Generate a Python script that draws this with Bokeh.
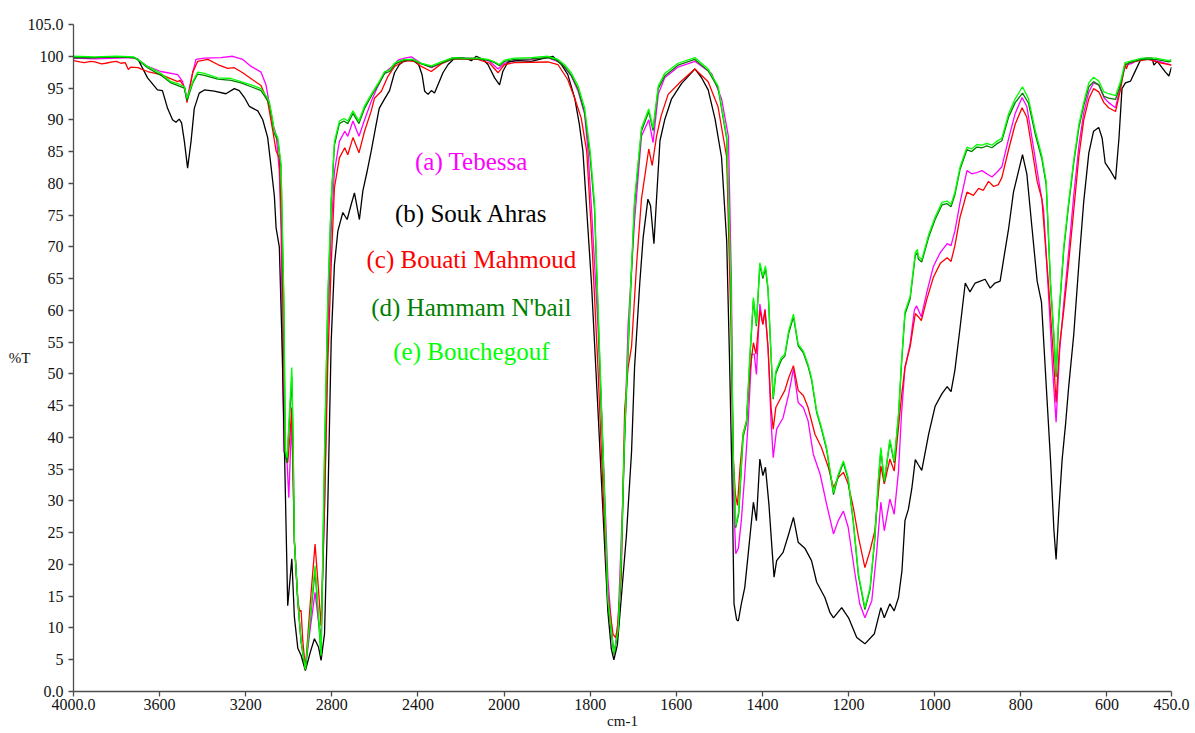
import numpy as np
from bokeh.plotting import figure
from bokeh.models import Range1d, FixedTicker, Label
from bokeh.embed import file_html
from bokeh.resources import INLINE

# ---------------- FTIR spectra: wavenumber (cm-1) and transmittance (%T) ----------------
tebessa_wn = [4000, 3900, 3800, 3720, 3700, 3656, 3594, 3516, 3493, 3473, 3446, 3431, 3392, 3315, 3261,
              3214, 3175, 3129, 3106, 3098, 3074, 3059, 3044, 3036, 3023, 3008, 3000, 2992, 2986, 2980,
              2974, 2958, 2943, 2923, 2900, 2878, 2862, 2850, 2834, 2819, 2803, 2788, 2765, 2740, 2726,
              2702, 2674, 2648, 2617, 2590, 2555, 2509, 2493, 2462, 2431, 2385, 2338, 2292, 2238, 2150,
              2100, 2067, 2028, 1999, 1976, 1937, 1898, 1867, 1844, 1828, 1813, 1805, 1797, 1782, 1770,
              1759, 1747, 1743, 1735, 1724, 1712, 1697, 1681, 1664, 1654, 1642, 1627, 1596, 1557, 1518,
              1495, 1479, 1472, 1468, 1462, 1456, 1449, 1441, 1433, 1425, 1419, 1414, 1406, 1399, 1394,
              1387, 1380, 1375, 1367, 1352, 1339, 1328, 1317, 1305, 1294, 1282, 1266, 1251, 1235, 1224,
              1212, 1201, 1185, 1174, 1162, 1146, 1135, 1125, 1117, 1104, 1094, 1084, 1077, 1069, 1057,
              1047, 1042, 1031, 1018, 1003, 987, 971, 962, 953, 941, 925, 914, 902, 890, 879,
              867, 856, 844, 828, 813, 797, 786, 774, 758, 747, 735, 726, 718, 710, 700,
              689, 677, 665, 654, 642, 631, 619, 607, 596, 580, 568, 557, 541, 526, 503,
              479, 450]
tebessa_t = [99.7, 99.6, 99.7, 99.8, 99.5, 98.4, 97.6, 97.1, 96.0, 93.2, 97.5, 99.5, 99.7, 99.8, 100.0,
             99.5, 98.4, 97.5, 95.5, 94.0, 89.3, 87.7, 81.9, 72.5, 37.9, 36.0, 30.5, 38.0, 42.6, 33.0,
             23.7, 14.3, 8.0, 3.6, 10.0, 15.6, 11.0, 8.5, 29.0, 56.8, 72.5, 81.9, 86.6, 88.2, 87.4,
             89.8, 87.4, 90.0, 92.9, 95.0, 97.4, 98.7, 99.4, 99.7, 99.9, 98.9, 98.2, 98.9, 99.8, 99.7,
             99.6, 99.2, 98.0, 98.9, 99.3, 99.5, 99.8, 98.9, 96.9, 94.5, 90.9, 85.0, 76.0, 57.6, 37.7,
             17.9, 7.3, 6.3, 11.3, 31.1, 57.6, 74.1, 87.4, 90.0, 86.4, 94.0, 96.6, 98.3, 99.2, 97.3,
             93.3, 87.4, 64.2, 32.1, 21.7, 22.5, 26.9, 34.2, 42.6, 53.1, 53.1, 49.9, 61.0, 57.8, 60.2,
             54.1, 42.6, 36.8, 41.3, 43.1, 46.8, 50.8, 45.5, 44.7, 42.6, 37.4, 34.2, 29.5, 24.8, 26.9,
             28.4, 25.9, 18.5, 13.8, 11.6, 14.3, 21.7, 29.8, 25.3, 30.3, 27.9, 34.7, 43.7, 51.0, 54.7,
             60.1, 60.7, 59.0, 62.9, 66.9, 69.1, 70.5, 70.2, 72.5, 77.0, 82.0, 81.5, 81.7, 82.0, 81.5,
             81.0, 81.7, 82.6, 87.1, 91.0, 93.5, 92.1, 87.1, 80.3, 75.8, 61.8, 50.6, 42.4, 53.4, 61.3,
             69.1, 78.1, 86.0, 91.0, 94.4, 95.8, 95.5, 93.5, 92.7, 91.9, 95.5, 98.6, 98.9, 99.5, 99.5,
             99.2, 98.6]

souk_ahras_wn = [4000, 3900, 3800, 3720, 3700, 3656, 3610, 3587, 3563, 3540, 3524, 3509, 3498, 3485, 3470,
                 3454, 3439, 3416, 3392, 3346, 3292, 3253, 3230, 3206, 3183, 3144, 3121, 3098, 3082, 3067,
                 3059, 3044, 3033, 3020, 3005, 2986, 2974, 2958, 2943, 2923, 2900, 2881, 2862, 2850, 2834,
                 2819, 2803, 2788, 2772, 2749, 2729, 2710, 2695, 2672, 2656, 2636, 2617, 2594, 2580, 2555,
                 2532, 2509, 2486, 2470, 2431, 2397, 2381, 2369, 2353, 2338, 2323, 2307, 2284, 2260, 2230,
                 2200, 2170, 2152, 2129, 2098, 2075, 2044, 2021, 2006, 1991, 1968, 1937, 1906, 1887, 1867,
                 1852, 1836, 1825, 1817, 1797, 1782, 1770, 1759, 1751, 1745, 1737, 1728, 1716, 1704, 1697,
                 1685, 1677, 1666, 1660, 1652, 1646, 1638, 1627, 1611, 1588, 1557, 1542, 1526, 1510, 1495,
                 1483, 1476, 1470, 1466, 1460, 1456, 1449, 1441, 1433, 1421, 1414, 1406, 1399, 1393, 1385,
                 1377, 1373, 1367, 1352, 1339, 1328, 1317, 1301, 1286, 1274, 1255, 1243, 1235, 1216, 1200,
                 1181, 1162, 1140, 1125, 1117, 1104, 1094, 1084, 1076, 1069, 1061, 1053, 1045, 1038, 1030,
                 1014, 999, 983, 971, 962, 953, 941, 929, 918, 906, 894, 883, 871, 860, 848,
                 840, 828, 817, 805, 796, 786, 774, 762, 752, 743, 731, 723, 718, 712, 704,
                 696, 689, 677, 665, 654, 642, 631, 619, 611, 604, 592, 580, 572, 565, 557,
                 545, 534, 522, 510, 495, 491, 483, 464, 456, 450]
souk_ahras_t = [99.8, 99.8, 99.9, 99.8, 99.5, 96.6, 94.7, 94.6, 91.8, 90.0, 89.6, 90.1, 89.5, 86.6, 82.4,
                86.6, 91.8, 94.2, 94.7, 94.5, 94.1, 94.9, 94.6, 93.5, 92.1, 91.4, 90.0, 87.2, 82.5, 78.0,
                73.0, 70.0, 56.8, 37.9, 13.5, 20.9, 11.7, 6.8, 5.7, 3.3, 6.2, 8.3, 7.0, 4.9, 9.1,
                29.0, 55.2, 67.2, 72.5, 75.4, 74.3, 76.7, 78.5, 74.3, 78.8, 81.9, 85.1, 89.3, 91.8, 93.3,
                94.6, 97.4, 98.7, 99.1, 99.5, 98.7, 97.1, 94.5, 94.0, 94.6, 94.2, 95.5, 97.4, 98.7, 99.7,
                99.8, 99.6, 99.3, 100.0, 99.5, 98.7, 96.6, 95.5, 97.6, 99.1, 99.3, 99.2, 99.7, 100.0, 98.7,
                97.1, 93.4, 89.2, 85.1, 64.2, 44.3, 27.8, 12.6, 6.7, 5.0, 7.3, 14.6, 24.5, 37.7, 51.0,
                64.2, 71.5, 77.5, 76.5, 70.5, 77.5, 86.7, 90.0, 93.3, 95.7, 98.0, 96.7, 94.7, 90.1, 84.1,
                70.9, 51.0, 31.1, 13.8, 11.3, 11.1, 13.8, 16.4, 21.7, 29.8, 26.9, 36.6, 34.0, 35.3, 29.5,
                21.7, 18.0, 20.6, 21.9, 24.8, 27.4, 23.5, 22.5, 20.6, 17.2, 14.8, 12.4, 11.6, 13.2, 11.6,
                8.5, 7.5, 9.1, 13.2, 11.6, 13.8, 12.7, 14.8, 19.0, 26.9, 28.7, 32.0, 36.5, 35.7, 34.8,
                40.5, 44.9, 46.9, 48.0, 47.2, 50.6, 57.3, 64.3, 62.9, 64.3, 64.6, 64.9, 63.5, 64.3, 64.6,
                68.0, 73.0, 78.6, 82.0, 84.5, 81.5, 73.0, 64.6, 61.3, 50.6, 36.5, 25.3, 20.8, 28.1, 36.5,
                42.1, 47.8, 56.2, 67.4, 77.0, 84.8, 88.2, 88.8, 87.1, 83.2, 82.0, 80.6, 87.1, 94.9, 95.8,
                96.1, 97.7, 99.4, 99.7, 99.7, 98.6, 99.2, 97.5, 96.9, 98.3]

bouati_wn = [4000, 3970, 3950, 3920, 3900, 3870, 3850, 3820, 3800, 3780, 3760, 3745, 3735, 3700, 3687,
             3656, 3594, 3516, 3505, 3482, 3473, 3446, 3423, 3376, 3330, 3284, 3253, 3214, 3168, 3129,
             3098, 3074, 3059, 3044, 3033, 3023, 3017, 3005, 2995, 2986, 2974, 2958, 2950, 2943, 2935,
             2923, 2900, 2878, 2862, 2850, 2834, 2819, 2803, 2788, 2765, 2740, 2726, 2702, 2674, 2648,
             2617, 2602, 2570, 2540, 2509, 2493, 2462, 2416, 2385, 2338, 2292, 2238, 2122, 2067, 2028,
             1999, 1976, 1898, 1875, 1852, 1836, 1821, 1808, 1797, 1782, 1770, 1759, 1747, 1741, 1737,
             1728, 1720, 1712, 1704, 1692, 1681, 1664, 1656, 1646, 1635, 1619, 1590, 1557, 1526, 1503,
             1483, 1473, 1468, 1463, 1458, 1452, 1445, 1437, 1429, 1421, 1415, 1406, 1399, 1394, 1387,
             1380, 1375, 1369, 1359, 1348, 1339, 1328, 1317, 1305, 1294, 1278, 1263, 1247, 1235, 1224,
             1212, 1201, 1189, 1177, 1162, 1150, 1139, 1125, 1117, 1104, 1094, 1084, 1077, 1069, 1057,
             1045, 1038, 1031, 1018, 1003, 987, 971, 962, 953, 941, 925, 910, 898, 887, 875,
             863, 852, 844, 828, 813, 797, 786, 774, 762, 751, 735, 726, 718, 710, 700,
             689, 677, 665, 654, 642, 631, 619, 607, 596, 580, 568, 558, 555, 549, 534,
             503, 479, 450]
bouati_t = [99.3, 99.1, 99.0, 99.2, 99.1, 98.8, 98.9, 99.1, 99.2, 98.9, 99.0, 97.9, 98.3, 98.2, 98.0,
            97.6, 97.1, 96.0, 96.2, 95.0, 92.7, 97.5, 99.2, 99.5, 98.7, 98.1, 98.2, 97.4, 96.3, 95.4,
            92.9, 88.2, 85.1, 84.0, 72.5, 51.5, 37.9, 36.0, 40.0, 44.7, 23.7, 14.3, 12.6, 12.8, 8.0,
            3.6, 14.0, 23.2, 16.0, 10.3, 29.0, 51.5, 67.2, 79.3, 84.0, 85.6, 84.5, 87.2, 84.8, 88.2,
            91.4, 93.4, 94.5, 96.8, 98.4, 98.7, 99.3, 99.2, 98.4, 97.6, 98.8, 99.6, 99.5, 98.9, 97.4,
            98.7, 99.0, 99.1, 98.7, 96.3, 93.4, 90.3, 85.0, 72.0, 51.0, 31.1, 15.3, 9.0, 8.5, 9.9,
            17.9, 44.3, 51.0, 54.3, 67.5, 77.5, 85.4, 82.8, 87.4, 90.7, 94.0, 96.0, 98.0, 96.0, 92.0,
            84.1, 57.6, 37.0, 31.1, 29.3, 35.3, 40.5, 42.6, 50.4, 54.9, 53.1, 60.0, 57.8, 60.0, 54.1,
            44.7, 41.3, 44.7, 46.0, 47.4, 49.4, 51.3, 47.4, 46.6, 44.7, 40.5, 38.4, 35.3, 32.1, 33.7,
            34.5, 32.7, 29.0, 24.3, 19.5, 22.2, 25.3, 35.5, 32.7, 36.6, 34.7, 41.6, 46.5, 51.0, 54.3,
            59.5, 59.0, 58.4, 61.8, 65.2, 67.4, 68.3, 67.7, 70.2, 74.7, 78.6, 78.1, 79.2, 78.9, 80.3,
            79.5, 79.8, 80.9, 85.4, 89.3, 91.9, 90.4, 85.4, 80.3, 77.5, 63.5, 54.5, 45.5, 54.5, 60.1,
            67.4, 75.8, 84.3, 89.9, 93.3, 94.9, 94.4, 92.7, 91.9, 91.3, 94.9, 98.9, 98.0, 99.0, 99.2,
            99.5, 99.0, 98.6]

hammam_wn = [4000, 3900, 3800, 3720, 3700, 3656, 3594, 3547, 3509, 3485, 3473, 3446, 3423, 3392, 3330,
             3268, 3222, 3175, 3129, 3098, 3090, 3079, 3067, 3051, 3036, 3023, 3016, 3008, 3000, 2986,
             2980, 2974, 2958, 2943, 2923, 2900, 2878, 2862, 2850, 2834, 2819, 2803, 2788, 2765, 2744,
             2726, 2702, 2674, 2648, 2617, 2579, 2555, 2532, 2509, 2493, 2462, 2423, 2385, 2338, 2292,
             2238, 2184, 2122, 2075, 2044, 2021, 1999, 1976, 1937, 1898, 1875, 1860, 1844, 1828, 1813,
             1800, 1790, 1782, 1770, 1759, 1745, 1735, 1728, 1720, 1708, 1697, 1681, 1664, 1654, 1642,
             1627, 1596, 1557, 1526, 1503, 1483, 1473, 1468, 1462, 1455, 1445, 1437, 1429, 1421, 1414,
             1406, 1399, 1393, 1387, 1380, 1375, 1369, 1356, 1348, 1339, 1328, 1317, 1305, 1294, 1286,
             1274, 1263, 1251, 1235, 1224, 1212, 1201, 1189, 1177, 1162, 1150, 1139, 1131, 1125, 1117,
             1104, 1094, 1084, 1077, 1069, 1057, 1045, 1040, 1038, 1030, 1014, 999, 983, 971, 962,
             953, 941, 925, 914, 902, 890, 879, 867, 856, 844, 828, 813, 796, 782, 766,
             751, 741, 731, 723, 718, 712, 700, 689, 677, 665, 654, 642, 631, 619, 607,
             596, 580, 568, 558, 541, 518, 487, 456, 450]
hammam_t = [99.8, 99.8, 99.9, 99.8, 99.4, 98.2, 97.0, 95.8, 95.3, 95.0, 93.0, 95.8, 97.2, 97.0, 96.4,
            96.2, 95.8, 95.2, 94.6, 93.0, 92.3, 90.4, 87.8, 86.8, 82.5, 60.5, 37.5, 36.0, 41.0, 49.5,
            39.0, 23.5, 14.0, 7.8, 3.4, 11.5, 19.0, 11.5, 5.5, 36.5, 61.0, 77.0, 86.0, 89.4, 89.8,
            89.4, 91.0, 89.4, 91.8, 93.7, 95.8, 97.3, 97.6, 98.7, 99.0, 99.4, 99.4, 98.8, 98.3, 98.9,
            99.6, 99.6, 99.6, 99.4, 99.0, 98.5, 99.2, 99.5, 99.6, 99.8, 99.3, 98.4, 97.0, 94.8, 91.2,
            84.0, 76.0, 60.0, 36.5, 14.0, 5.8, 9.5, 20.5, 40.0, 60.0, 76.8, 88.2, 91.3, 88.3, 94.9,
            96.9, 98.6, 99.5, 97.7, 95.0, 87.0, 63.5, 37.0, 25.8, 28.0, 40.0, 42.2, 52.7, 61.6, 57.5,
            67.2, 65.0, 66.6, 63.2, 52.8, 46.0, 50.0, 52.2, 52.8, 56.4, 59.0, 54.4, 53.3, 51.2, 49.1,
            43.9, 41.3, 38.1, 31.0, 33.9, 36.0, 33.4, 26.6, 18.2, 12.9, 16.1, 24.0, 32.9, 38.0, 32.9,
            39.4, 36.0, 43.3, 51.6, 59.4, 61.8, 68.6, 69.1, 68.1, 67.6, 71.5, 74.3, 76.6, 76.8, 76.3,
            78.2, 82.2, 85.3, 85.0, 85.7, 85.6, 85.9, 85.6, 86.2, 86.7, 90.5, 92.7, 94.2, 92.6, 87.6,
            83.8, 79.8, 64.0, 55.6, 49.5, 58.5, 69.7, 76.5, 83.2, 88.8, 92.2, 95.2, 96.0, 95.5, 93.7,
            93.4, 93.2, 95.6, 98.7, 99.1, 99.5, 99.5, 99.1, 99.3]

bouchegouf_wn = [4000, 3900, 3800, 3720, 3700, 3656, 3594, 3547, 3509, 3485, 3473, 3446, 3423, 3392, 3330,
                 3268, 3222, 3175, 3129, 3098, 3090, 3079, 3067, 3051, 3036, 3023, 3016, 3008, 3000, 2986,
                 2980, 2974, 2958, 2943, 2923, 2900, 2878, 2862, 2850, 2834, 2819, 2803, 2788, 2765, 2744,
                 2726, 2702, 2674, 2648, 2617, 2579, 2555, 2532, 2509, 2493, 2462, 2423, 2385, 2338, 2292,
                 2238, 2184, 2122, 2075, 2044, 2021, 1999, 1976, 1937, 1898, 1875, 1860, 1844, 1828, 1813,
                 1800, 1790, 1782, 1770, 1759, 1745, 1735, 1728, 1720, 1708, 1697, 1681, 1664, 1654, 1642,
                 1627, 1596, 1557, 1526, 1503, 1483, 1473, 1468, 1462, 1455, 1445, 1437, 1429, 1421, 1414,
                 1406, 1399, 1393, 1387, 1380, 1375, 1369, 1356, 1348, 1339, 1328, 1317, 1305, 1294, 1286,
                 1274, 1263, 1251, 1235, 1224, 1212, 1201, 1189, 1177, 1162, 1150, 1139, 1131, 1125, 1117,
                 1104, 1094, 1084, 1077, 1069, 1057, 1045, 1040, 1038, 1030, 1014, 999, 983, 971, 962,
                 953, 941, 925, 914, 902, 890, 879, 867, 856, 844, 828, 813, 796, 782, 766,
                 751, 741, 731, 723, 718, 712, 700, 689, 677, 665, 654, 642, 631, 619, 607,
                 596, 580, 568, 558, 541, 518, 487, 456, 450]
bouchegouf_t = [100.0, 99.9, 100.0, 99.9, 99.5, 98.4, 97.3, 96.0, 95.6, 95.2, 93.4, 96.0, 97.5, 97.3, 96.6,
                96.5, 96.0, 95.5, 94.9, 93.4, 92.7, 90.8, 88.2, 87.2, 83.0, 62.0, 37.9, 36.8, 42.0, 51.0,
                40.0, 23.7, 14.3, 8.0, 3.5, 12.0, 19.8, 12.0, 5.7, 37.9, 62.0, 77.7, 86.6, 89.8, 90.2,
                89.8, 91.4, 89.8, 92.2, 94.0, 96.1, 97.6, 97.8, 98.9, 99.2, 99.5, 99.5, 98.9, 98.5, 99.1,
                99.8, 99.7, 99.7, 99.5, 99.1, 98.7, 99.4, 99.7, 99.8, 100.0, 99.5, 98.7, 97.4, 95.3, 91.9,
                85.0, 77.0, 61.0, 37.7, 14.6, 6.0, 9.8, 21.2, 41.0, 60.9, 77.5, 88.7, 91.7, 88.7, 95.3,
                97.3, 98.9, 99.8, 98.0, 95.3, 87.4, 64.2, 37.7, 26.1, 28.4, 40.5, 42.6, 53.1, 62.0, 57.8,
                67.5, 65.4, 67.0, 63.6, 53.1, 46.3, 50.4, 52.6, 53.1, 56.8, 59.4, 54.7, 53.6, 51.5, 49.4,
                44.2, 41.6, 38.4, 31.3, 34.2, 36.3, 33.7, 26.9, 18.5, 13.2, 16.4, 24.3, 33.2, 38.4, 33.2,
                39.7, 36.3, 43.7, 52.0, 59.8, 62.2, 69.1, 69.6, 68.5, 68.0, 71.9, 74.7, 77.0, 77.2, 76.7,
                78.6, 82.6, 85.7, 85.4, 86.1, 86.0, 86.3, 86.0, 86.6, 87.1, 91.0, 93.3, 95.2, 93.3, 88.2,
                84.3, 80.3, 64.6, 56.2, 50.0, 59.0, 70.2, 77.0, 83.7, 89.3, 92.7, 95.8, 96.7, 96.1, 94.4,
                94.1, 93.8, 96.1, 99.0, 99.3, 99.7, 99.7, 99.3, 99.5]

series_names = ["(a) Tebessa", "(b) Souk Ahras", "(c) Bouati Mahmoud", "(d) Hammam N'bail", "(e) Bouchegouf"]
series_colors = ["#ff00ff", "#000000", "#ff0000", "#008000", "#00ff00"]

x_tick_wn = [4000, 3600, 3200, 2800, 2400, 2000, 1800, 1600, 1400, 1200, 1000, 800, 600, 450]
x_tick_labels = ["4000.0", "3600", "3200", "2800", "2400", "2000", "1800", "1600",
                 "1400", "1200", "1000", "800", "600", "450.0"]
y_ticks = list(range(0, 106, 5))
y_tick_labels = ["0.0"] + [str(v) for v in range(5, 105, 5)] + ["105.0"]


def axis_pos(wn):
    """Spectrometer-style x scale: 400 cm-1 per division above 2000, 200 cm-1 per division below."""
    wn = np.asarray(wn, dtype=float)
    return np.where(wn >= 2000, (4000.0 - wn) / 400.0, 5.0 + (2000.0 - wn) / 200.0)


SERIF = "Times New Roman"

p = figure(width=1195, height=733, output_backend="svg", toolbar_location=None,
           x_range=Range1d(0, float(axis_pos(450))), y_range=Range1d(0, 105),
           min_border_left=73, min_border_right=24, min_border_top=24, min_border_bottom=42)
p.outline_line_color = None
p.grid.visible = False
p.background_fill_color = "white"
p.border_fill_color = "white"

tick_pos = [float(v) for v in axis_pos(x_tick_wn)]
p.xaxis.ticker = FixedTicker(ticks=tick_pos)
p.xaxis.major_label_overrides = {pos: lab for pos, lab in zip(tick_pos, x_tick_labels)}
p.yaxis.ticker = FixedTicker(ticks=y_ticks)
p.yaxis.major_label_overrides = {t: lab for t, lab in zip(y_ticks, y_tick_labels)}

for ax in (p.xaxis, p.yaxis):
    ax.axis_line_color = "#4d4d4d"
    ax.axis_line_width = 1.3
    ax.major_tick_line_color = "#4d4d4d"
    ax.major_tick_line_width = 1.3
    ax.major_tick_in = 0
    ax.major_tick_out = 5
    ax.minor_tick_line_color = None
    ax.major_label_text_font = SERIF
    ax.major_label_text_font_style = "normal"
    ax.major_label_text_font_size = "16px"
    ax.major_label_text_color = "#111111"
    ax.axis_label_text_font = SERIF
    ax.axis_label_text_font_size = "15px"
    ax.axis_label_text_font_style = "normal"
    ax.axis_label_text_color = "#111111"
p.xaxis.major_label_standoff = 2
p.yaxis.major_label_standoff = 5

# axis titles
p.xaxis.axis_label = "cm-1"
p.xaxis.axis_label_standoff = 0
p.yaxis.axis_label = "%T"
p.yaxis.axis_label_orientation = "horizontal"
p.yaxis.axis_label_standoff = -6

spectra = [(tebessa_wn, tebessa_t), (souk_ahras_wn, souk_ahras_t), (bouati_wn, bouati_t),
           (hammam_wn, hammam_t), (bouchegouf_wn, bouchegouf_t)]
for (wn, tr), color in zip(spectra, series_colors):
    p.line(axis_pos(wn), tr, line_color=color, line_width=1.3)

# sample labels written inside the plot area
label_x = float(axis_pos(2152))
label_y = [83.5, 75.2, 68.0, 60.4, 53.6]
for name, color, ly in zip(series_names, series_colors, label_y):
    p.add_layout(Label(x=label_x, y=ly, text=name, text_color=color, text_font=SERIF,
                       text_font_style="normal", text_font_size="25px",
                       text_align="center", text_baseline="middle"))

open("out.html", "w").write(file_html(p, INLINE))
